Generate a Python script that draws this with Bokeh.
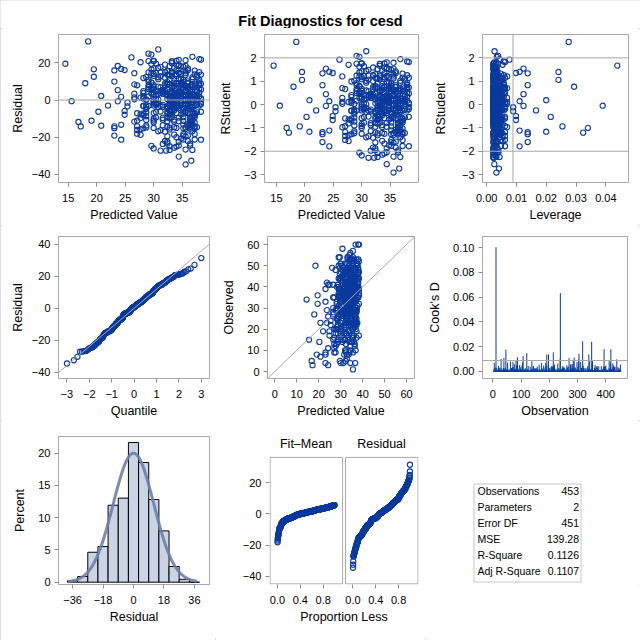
import numpy as np
from statistics import NormalDist
from bokeh.plotting import figure
from bokeh.layouts import row, column
from bokeh.models import Range1d, FixedTicker, Slope, Span, PrintfTickFormatter
from bokeh.embed import file_html
from bokeh.resources import INLINE
from bokeh.core.properties import value

# ---------------- data (observation order) ----------------
predicted = [
    34.0, 36.4, 31.2, 35.6, 24.3, 33.2, 37.2, 29.6, 34.8, 36.0,
    18.5, 32.4, 38.0, 33.6, 30.0, 35.2, 36.8, 32.8, 28.7, 34.4,
    37.6, 31.6, 35.6, 33.2, 20.3, 30.4, 36.4, 34.0, 38.3, 32.4,
    35.2, 29.1, 20.8, 36.0, 33.6, 37.2, 30.8, 34.8, 36.8, 32.0,
    28.2, 34.4, 32.8, 30.0, 34.0, 16.8, 36.4, 31.2, 35.6, 33.2,
    37.2, 29.6, 27.1, 34.8, 36.0, 32.4, 38.0, 33.6, 30.0, 22.0,
    35.2, 36.8, 32.8, 28.7, 34.4, 37.6, 31.6, 35.6, 33.2, 30.4,
    36.4, 34.0, 38.3, 32.4, 35.2, 29.1, 36.0, 33.6, 37.2, 30.8,
    34.8, 18.0, 36.8, 23.1, 32.0, 28.2, 19.1, 34.4, 32.8, 27.7,
    30.0, 34.0, 36.4, 31.2, 35.6, 33.2, 37.2, 29.6, 34.8, 26.6,
    36.0, 32.4, 38.0, 33.6, 30.0, 35.2, 23.1, 36.8, 32.8, 28.7,
    34.4, 37.6, 31.6, 35.6, 27.1, 33.2, 30.4, 36.4, 34.0, 23.7,
    38.3, 32.4, 35.2, 29.1, 36.0, 33.6, 37.2, 30.8, 34.8, 23.7,
    36.8, 32.0, 28.2, 34.4, 32.8, 30.0, 34.0, 36.4, 31.2, 26.6,
    35.6, 33.2, 37.2, 29.6, 34.8, 36.0, 32.4, 38.0, 33.6, 15.6,
    30.0, 35.2, 36.8, 32.8, 28.7, 34.4, 37.6, 31.6, 35.6, 26.6,
    33.2, 30.4, 36.4, 34.0, 38.3, 32.4, 35.2, 29.1, 36.0, 33.6,
    37.2, 30.8, 34.8, 36.8, 32.0, 28.2, 34.4, 23.7, 32.8, 30.0,
    34.0, 36.4, 31.2, 35.6, 33.2, 37.2, 27.1, 29.6, 34.8, 36.0,
    20.8, 32.4, 38.0, 33.6, 30.0, 35.2, 19.5, 36.8, 32.8, 24.9,
    28.7, 34.4, 37.6, 31.6, 35.6, 33.2, 27.1, 30.4, 36.4, 34.0,
    38.3, 32.4, 35.2, 36.6, 29.1, 36.0, 33.6, 37.2, 30.8, 34.8,
    36.8, 32.0, 28.2, 34.4, 27.7, 32.8, 30.0, 34.0, 36.4, 31.2,
    35.6, 33.2, 37.2, 29.6, 34.8, 36.0, 32.4, 38.0, 14.5, 33.6,
    30.0, 35.2, 36.8, 32.8, 28.7, 34.4, 37.6, 31.6, 35.6, 33.2,
    30.4, 36.4, 34.0, 38.3, 24.3, 32.4, 35.2, 29.1, 36.0, 33.6,
    37.2, 26.6, 30.8, 34.8, 36.8, 32.0, 28.2, 34.4, 32.8, 24.3,
    30.0, 34.0, 36.4, 31.2, 27.1, 35.6, 32.2, 33.2, 37.2, 24.9,
    29.6, 34.8, 36.0, 32.4, 24.9, 38.0, 33.6, 23.1, 30.0, 35.2,
    36.8, 26.6, 32.8, 28.7, 34.4, 37.6, 31.6, 27.7, 35.6, 33.2,
    30.4, 36.4, 34.0, 38.3, 26.1, 32.4, 35.2, 29.1, 36.0, 33.6,
    37.2, 30.8, 34.8, 36.8, 32.0, 28.2, 34.4, 17.2, 32.8, 30.0,
    34.0, 36.4, 31.2, 35.6, 33.2, 37.2, 29.6, 34.8, 36.0, 26.6,
    32.4, 38.0, 33.6, 30.0, 35.2, 36.8, 32.8, 28.7, 34.4, 35.6,
    37.6, 31.6, 35.6, 33.2, 27.7, 30.4, 36.4, 34.0, 38.3, 19.5,
    32.4, 35.2, 29.1, 36.0, 33.6, 37.2, 30.8, 34.8, 36.8, 32.0,
    28.2, 34.4, 32.8, 30.0, 25.4, 34.0, 36.4, 31.2, 35.6, 33.2,
    37.2, 29.6, 34.8, 36.0, 32.4, 38.0, 33.6, 30.0, 35.2, 27.1,
    36.8, 32.8, 28.7, 34.4, 37.6, 31.6, 35.6, 33.2, 30.4, 36.4,
    34.0, 38.3, 32.4, 23.1, 35.2, 29.1, 36.0, 33.6, 37.2, 27.7,
    30.8, 34.8, 36.8, 32.0, 28.2, 34.4, 32.8, 30.0, 34.0, 25.4,
    36.4, 34.4, 31.2, 35.6, 33.2, 37.2, 29.6, 24.3, 34.8, 36.0,
    32.4, 38.0, 33.6, 30.0, 27.7, 35.2, 36.8, 32.8, 28.7, 34.4,
    37.6, 31.6, 35.6, 33.2, 30.4, 36.4, 34.0, 38.3, 23.1, 32.4,
    35.2, 29.1, 36.0, 33.6, 37.2, 30.8, 34.8, 36.8, 32.0, 28.2,
    34.4, 32.8, 30.0,
]

observed = [
    35, 40, 25, 50, 11, 32, 28, 33, 36, 52,
    50, 26, 46, 15, 33, 44, 44, 25, 29, 12,
    43, 35, 21, 46, 14, 28, 42, 30, 60, 35,
    20, 36, 23, 46, 28, 39, 48, 44, 10, 15,
    20, 46, 23, 47, 19, 5, 33, 44, 40, 27,
    39, 5, 20, 44, 33, 21, 48, 34, 38, 19,
    28, 60, 30, 18, 38, 50, 28, 35, 54, 33,
    13, 14, 32, 46, 22, 50, 33, 41, 29, 43,
    37, 27, 24, 33, 41, 25, 8, 53, 25, 18,
    36, 36, 41, 28, 57, 34, 23, 36, 49, 35,
    29, 35, 53, 41, 4, 17, 39, 33, 44, 20,
    49, 39, 36, 30, 16, 47, 29, 27, 37, 42,
    39, 48, 29, 37, 17, 37, 46, 38, 27, 23,
    37, 10, 33, 37, 18, 43, 38, 12, 15, 30,
    29, 48, 22, 49, 33, 42, 28, 49, 37, 15,
    15, 42, 35, 51, 25, 39, 23, 29, 49, 28,
    37, 24, 38, 9, 47, 29, 24, 39, 36, 42,
    30, 58, 32, 26, 36, 40, 30, 29, 32, 51,
    31, 25, 35, 36, 53, 30, 9, 39, 14, 37,
    7, 42, 44, 30, 29, 14, 32, 40, 34, 19,
    15, 46, 40, 37, 33, 54, 13, 31, 22, 40,
    52, 25, 38, 4, 44, 43, 8, 19, 27, 46,
    28, 47, 29, 38, 29, 27, 44, 27, 39, 4,
    43, 31, 25, 44, 34, 45, 23, 60, 34, 32,
    18, 43, 48, 30, 26, 53, 42, 8, 20, 26,
    45, 21, 53, 36, 26, 38, 31, 40, 39, 19,
    44, 41, 29, 53, 33, 37, 13, 31, 46, 41,
    34, 34, 26, 36, 11, 51, 5, 24, 38, 17,
    46, 41, 14, 13, 41, 35, 43, 8, 19, 51,
    37, 15, 41, 22, 49, 35, 21, 48, 40, 33,
    50, 29, 43, 17, 49, 33, 45, 35, 32, 33,
    16, 34, 36, 23, 44, 30, 39, 3, 30, 51,
    47, 22, 49, 38, 38, 34, 39, 36, 22, 27,
    38, 40, 51, 27, 38, 20, 31, 41, 42, 1,
    31, 35, 9, 40, 20, 28, 24, 48, 37, 36,
    41, 26, 54, 34, 22, 45, 42, 32, 34, 51,
    32, 10, 17, 23, 24, 55, 27, 38, 16, 33,
    51, 35, 32, 33, 9, 42, 34, 20, 46, 35,
    40, 36, 24, 56, 38, 22, 41, 48, 21, 37,
    50, 44, 10, 4, 16, 26, 45, 23, 53, 12,
    31, 43, 30, 47, 25, 23, 37, 30, 36, 22,
    23, 4, 46, 33, 40, 29, 54, 3, 37, 23,
    41, 47, 29, 28, 9, 53, 45, 8, 14, 25,
    51, 18, 54, 35, 35, 33, 43, 39, 9, 18,
    41, 31, 53, 31, 40, 14, 33, 49, 40, 21,
    37, 6, 37,
]

n_params = 2
stat_labels = ["Observations", "Parameters", "Error DF", "MSE", "R-Square", "Adj R-Square"]
stat_values = ["453", "2", "451", "139.28", "0.1126", "0.1107"]

title_text = "Fit Diagnostics for cesd"

# ---------------- derived diagnostics ----------------
pred = np.array(predicted, dtype=float)
obs = np.array(observed, dtype=float)
n = len(pred)
resid = obs - pred
dev = pred - pred.mean()
lev = 1.0 / n + dev ** 2 / np.sum(dev ** 2)
sse = np.sum(resid ** 2)
mse = sse / (n - n_params)
s_i2 = (sse - resid ** 2 / (1 - lev)) / (n - n_params - 1)
rstud = resid / np.sqrt(s_i2 * (1 - lev))
cooksd = resid ** 2 * lev / (n_params * mse * (1 - lev) ** 2)
obs_no = np.arange(1, n + 1)

nd = NormalDist()
sorted_res = np.sort(resid)
quant = np.array([nd.inv_cdf((i + 1 - 0.375) / (n + 0.25)) for i in range(n)])
res_sd = resid.std(ddof=1)

edges = np.arange(-39, 40, 6)
counts, _ = np.histogram(resid, bins=edges)
pct = counts / n * 100.0
xs_d = np.linspace(resid.min() - 4, resid.max() + 6, 200)
dens = 100.0 * 6 * np.array([NormalDist(resid.mean(), res_sd).pdf(v) for v in xs_d])

prop = (np.arange(1, n + 1) - 0.5) / n
fit_mean = np.sort(pred - obs.mean())

# ---------------- styling ----------------
FONT = "Liberation Sans"
BLUE = "#0B3A9E"
FRAME = "#A8A8A8"
REFC = "#A8A8A8"
TICKC = "#8A8A8A"
TXT = "#000000"


def make_fig(w, h, l, r, t, b, xr, yr):
    p = figure(width=w, height=h, min_border_left=l, min_border_right=r,
               min_border_top=t, min_border_bottom=b,
               x_range=Range1d(*xr), y_range=Range1d(*yr),
               output_backend="svg", toolbar_location=None, tools="")
    p.outline_line_color = FRAME
    p.grid.visible = False
    p.background_fill_color = "white"
    p.border_fill_color = "white"
    return p


def style_axes(p, xlabel, ylabel, xticks, yticks, ystand=8, xstand=3):
    xa, ya = p.xaxis[0], p.yaxis[0]
    xa.ticker = FixedTicker(ticks=list(xticks))
    ya.ticker = FixedTicker(ticks=list(yticks))
    for ax in (xa, ya):
        ax.axis_line_color = None
        ax.major_tick_line_color = TICKC
        ax.major_tick_out = 4
        ax.major_tick_in = 0
        ax.minor_tick_line_color = None
        ax.major_label_text_font = FONT
        ax.major_label_text_font_size = "11px"
        ax.major_label_text_color = TXT
        ax.axis_label_text_font = FONT
        ax.axis_label_text_font_size = "12.5px"
        ax.axis_label_text_font_style = "normal"
        ax.axis_label_text_color = TXT
    xa.axis_label = xlabel
    ya.axis_label = ylabel
    xa.major_label_standoff = 7
    ya.major_label_standoff = 4
    xa.axis_label_standoff = xstand
    ya.axis_label_standoff = ystand


def circles(p, x, y):
    p.scatter(x, y, marker="circle", size=5.2, fill_color=None,
              line_color=BLUE, line_width=1.1)


# title
tf = figure(width=640, height=28, x_range=Range1d(0, 640), y_range=Range1d(28, 0),
            output_backend="svg", toolbar_location=None, tools="",
            min_border_left=0, min_border_right=0, min_border_top=0, min_border_bottom=0)
tf.axis.visible = False
tf.grid.visible = False
tf.outline_line_color = None
tf.text(x=[320], y=[20], text=[title_text], text_align="center", text_baseline="middle",
        text_font=value(FONT), text_font_size="14.5px", text_font_style="bold", text_color=TXT)

# P1 residual vs predicted
p1 = make_fig(215, 197, 58, 6, 6, 43, (13.3, 39.8), (-44.3, 35.2))
p1.add_layout(Span(location=0, dimension="width", line_color=REFC, line_width=1))
circles(p1, pred, resid)
style_axes(p1, "Predicted Value", "Residual", [15, 20, 25, 30, 35], [-40, -20, 0, 20], ystand=4)

# P2 rstudent vs predicted
p2 = make_fig(210, 197, 46, 7, 6, 43, (12.9, 40.0), (-3.34, 3.0))
for yv in (-2, 2):
    p2.add_layout(Span(location=yv, dimension="width", line_color=REFC, line_width=1))
circles(p2, pred, rstud)
style_axes(p2, "Predicted Value", "RStudent", [15, 20, 25, 30, 35], [-3, -2, -1, 0, 1, 2])

# P3 rstudent vs leverage
p3 = make_fig(215, 197, 57, 12, 6, 43, (-0.0014, 0.0476), (-3.34, 3.0))
for yv in (-2, 2):
    p3.add_layout(Span(location=yv, dimension="width", line_color=REFC, line_width=1))
p3.add_layout(Span(location=2 * n_params / n, dimension="height", line_color=REFC, line_width=1))
circles(p3, lev, rstud)
style_axes(p3, "Leverage", "RStudent", [0.0, 0.01, 0.02, 0.03, 0.04], [-3, -2, -1, 0, 1, 2], ystand=11)
p3.xaxis[0].formatter = PrintfTickFormatter(format="%.2f")

# P4 QQ
p4 = make_fig(215, 195, 58, 6, 11, 38, (-3.37, 3.36), (-44.0, 45.0))
p4.add_layout(Slope(gradient=res_sd, y_intercept=resid.mean(), line_color=REFC, line_width=1))
circles(p4, quant, sorted_res)
style_axes(p4, "Quantile", "Residual", [-3, -2, -1, 0, 1, 2, 3], [-40, -20, 0, 20, 40], ystand=4)

# P5 observed vs predicted
p5 = make_fig(210, 195, 52, 11, 11, 38, (-3.3, 63.6), (-3.3, 63.8))
p5.add_layout(Slope(gradient=1, y_intercept=0, line_color=REFC, line_width=1))
circles(p5, pred, obs)
style_axes(p5, "Predicted Value", "Observed", [0, 10, 20, 30, 40, 50, 60], [0, 10, 20, 30, 40, 50, 60])

# P6 Cook's D
p6 = make_fig(215, 195, 53, 13, 11, 38, (-36.9, 477), (-0.0057, 0.1091))
p6.add_layout(Span(location=4.0 / n, dimension="width", line_color=REFC, line_width=1))
p6.segment(x0=obs_no, y0=np.zeros(n), x1=obs_no, y1=cooksd, line_color=BLUE, line_width=1)
p6.segment(x0=[obs_no[0]], y0=[0], x1=[obs_no[-1]], y1=[0], line_color=BLUE, line_width=1.3)
style_axes(p6, "Observation", "Cook's D", [0, 100, 200, 300, 400], [0, 0.02, 0.04, 0.06, 0.08, 0.10])
p6.yaxis[0].formatter = PrintfTickFormatter(format="%.2f")

# P7 histogram
p7 = make_fig(215, 220, 58, 6, 16, 56, (-44.3, 44.9), (-0.36, 22.57))
p7.quad(left=edges[:-1], right=edges[1:], top=pct, bottom=0,
        fill_color="#CAD4E5", line_color="#000000", line_width=1)
p7.line(xs_d, dens, line_color="#6A80A8", line_width=3, line_alpha=0.9)
style_axes(p7, "Residual", "Percent", [-36, -18, 0, 18, 36], [0, 5, 10, 15, 20])

# P8 residual-fit spread
OFF = 1.322
p8 = make_fig(210, 220, 54, 7, 16, 56, (-0.14, 2.47), (-45.3, 49.6))
p8.outline_line_color = None
p8.quad(left=[-0.13, OFF - 0.13], right=[1.14, OFF + 1.14], top=[36.2, 36.2],
        bottom=[-44.9, -44.9], fill_color=None, line_color=FRAME, line_width=1)
circles(p8, prop, fit_mean)
circles(p8, prop + OFF, sorted_res)
p8.text(x=[0.5, OFF + 0.5], y=[44.6, 44.6], text=["Fit–Mean", "Residual"],
        text_align="center", text_baseline="middle", text_font=value(FONT),
        text_font_size="12.5px", text_color=TXT)
rf_ticks = [0.0, 0.4, 0.8, OFF, OFF + 0.4, OFF + 0.8]
style_axes(p8, "Proportion Less", "", rf_ticks, [-40, -20, 0, 20])
p8.xaxis[0].major_label_overrides = {t: "%.1f" % (t - OFF if t > 1.2 else t) for t in rf_ticks}

# P9 fit statistics table (pixel coordinates of its own frame, aligned with its row)
p9 = figure(width=215, height=220, x_range=Range1d(425, 640), y_range=Range1d(584, 436),
            output_backend="svg", toolbar_location=None, tools="",
            min_border_left=0, min_border_right=0, min_border_top=16, min_border_bottom=56)
p9.axis.visible = False
p9.grid.visible = False
p9.outline_line_color = None
p9.quad(left=[473.5], right=[580.5], top=[483.5], bottom=[581.5], fill_color=None,
        line_color="#C8C8C8", line_width=1)
row_y = [490.8 + 15.9 * i for i in range(len(stat_labels))]
p9.text(x=[477] * len(stat_labels), y=row_y, text=stat_labels, text_align="left",
        text_baseline="middle", text_font=value(FONT), text_font_size="10.5px", text_color=TXT)
p9.text(x=[578.5] * len(stat_values), y=row_y, text=stat_values, text_align="right",
        text_baseline="middle", text_font=value(FONT), text_font_size="10.5px", text_color=TXT)

layout = column(tf, row(p1, p2, p3), row(p4, p5, p6), row(p7, p8, p9),
                styles={"outline": "2px solid #D4D4D4", "outline-offset": "-2px"})
open("out.html", "w").write(file_html(layout, INLINE))
